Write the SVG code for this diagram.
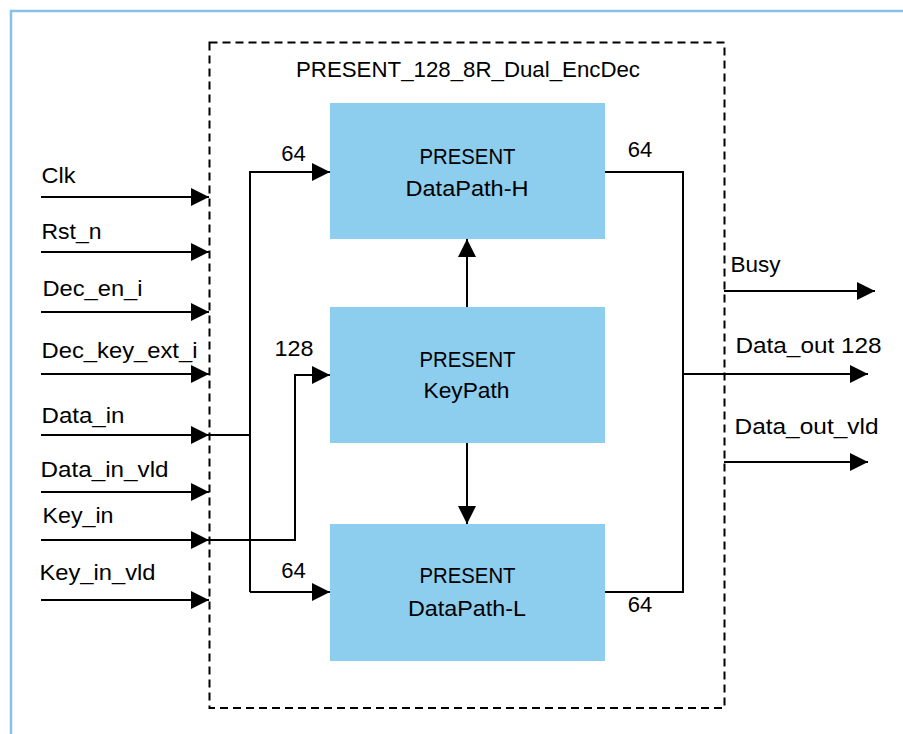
<svg xmlns="http://www.w3.org/2000/svg" width="903" height="734" viewBox="0 0 903 734">
<style>
text{font-family:"Liberation Sans",Arial,sans-serif;font-size:22px;fill:#000}
.c{text-anchor:middle}
.w{fill:none;stroke:#000;stroke-width:2}
.a{fill:none;stroke:#000;stroke-width:2;marker-end:url(#ah)}
.blk{fill:#8DCDEE}
</style>
<defs>
<marker id="ah" markerUnits="userSpaceOnUse" markerWidth="18" markerHeight="18" refX="16" refY="8" orient="auto" viewBox="0 0 16 16">
<path d="M0,0 L16,8 L0,16 Z" fill="#000"/>
</marker>
</defs>
<rect width="903" height="734" fill="#fff"/>
<path d="M11,734 V11 H903" fill="none" stroke="#88C0E8" stroke-width="2.5"/>
<g id="top">
<rect x="209.5" y="42.5" width="515" height="665.5" fill="none" stroke="#000" stroke-width="2" stroke-dasharray="8,5"/>
<text x="468" y="77" class="c" textLength="344" lengthAdjust="spacingAndGlyphs">PRESENT_128_8R_Dual_EncDec</text>
</g>
<g id="dp_h">
<rect class="blk" x="330" y="103" width="275" height="136"/>
<text x="467.5" y="164" class="c" textLength="96" lengthAdjust="spacingAndGlyphs">PRESENT</text>
<text x="467" y="196" class="c" textLength="123" lengthAdjust="spacingAndGlyphs">DataPath-H</text>
</g>
<g id="keypath">
<rect class="blk" x="330" y="307" width="275" height="136"/>
<text x="467.5" y="367" class="c" textLength="96" lengthAdjust="spacingAndGlyphs">PRESENT</text>
<text x="466.5" y="398" class="c" textLength="86" lengthAdjust="spacingAndGlyphs">KeyPath</text>
</g>
<g id="dp_l">
<rect class="blk" x="330" y="524" width="275" height="137"/>
<text x="467.5" y="583" class="c" textLength="96" lengthAdjust="spacingAndGlyphs">PRESENT</text>
<text x="467" y="616" class="c" textLength="118" lengthAdjust="spacingAndGlyphs">DataPath-L</text>
</g>
<g id="connectors">
<path class="a" d="M41,197 H209"/>
<path class="a" d="M41,252 H209"/>
<path class="a" d="M41,312 H209"/>
<path class="a" d="M41,374 H209"/>
<path class="a" d="M41,435 H209"/>
<path class="a" d="M41,492 H209"/>
<path class="a" d="M41,540 H209"/>
<path class="a" d="M41,600 H209"/>
<path class="w" d="M209,435 H250"/>
<path class="a" d="M250,592 V172 H330"/>
<path class="a" d="M250,592 H330"/>
<path class="a" d="M209,540 H295 V375 H330"/>
<path class="a" d="M467,307 V239"/>
<path class="a" d="M467,443 V524"/>
<path class="w" d="M605,172 H683 V592 H605"/>
<path class="a" d="M683,374 H868"/>
<path class="a" d="M724,291 H875"/>
<path class="a" d="M724,462 H868"/>
</g>
<g id="labels">
<text x="41.5" y="183" textLength="34" lengthAdjust="spacingAndGlyphs">Clk</text>
<text x="41.5" y="239" textLength="60" lengthAdjust="spacingAndGlyphs">Rst_n</text>
<text x="42.5" y="296" textLength="100" lengthAdjust="spacingAndGlyphs">Dec_en_i</text>
<text x="41.5" y="358" textLength="156" lengthAdjust="spacingAndGlyphs">Dec_key_ext_i</text>
<text x="41.5" y="423" textLength="83" lengthAdjust="spacingAndGlyphs">Data_in</text>
<text x="40.5" y="477" textLength="128" lengthAdjust="spacingAndGlyphs">Data_in_vld</text>
<text x="42.5" y="523" textLength="71" lengthAdjust="spacingAndGlyphs">Key_in</text>
<text x="39.5" y="580" textLength="116" lengthAdjust="spacingAndGlyphs">Key_in_vld</text>
<text x="293.5" y="161" class="c">64</text>
<text x="294" y="356" class="c" textLength="39" lengthAdjust="spacingAndGlyphs">128</text>
<text x="293.5" y="578" class="c">64</text>
<text x="640" y="157" class="c">64</text>
<text x="640" y="612" class="c">64</text>
<text x="730.5" y="272" textLength="50" lengthAdjust="spacingAndGlyphs">Busy</text>
<text x="735.5" y="353" textLength="146" lengthAdjust="spacingAndGlyphs">Data_out 128</text>
<text x="734.5" y="434" textLength="144" lengthAdjust="spacingAndGlyphs">Data_out_vld</text>
</g>
</svg>
